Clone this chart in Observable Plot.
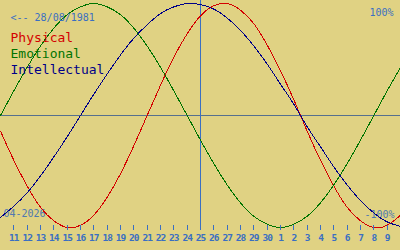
<!DOCTYPE html>
<html>
<head>
<meta charset="utf-8">
<script src="https://cdn.jsdelivr.net/npm/d3@7"></script>
<script src="https://cdn.jsdelivr.net/npm/@observablehq/plot@0.6"></script>
<style>
  html, body { margin: 0; padding: 0; background: #e0d283; }
  #chart svg { display: block; }
  #chart path, #chart line { shape-rendering: crispEdges; }
  #chart g[aria-label="x-axis tick label"] text { letter-spacing: -1px; }
</style>
</head>
<body>
<div id="chart"></div>
<script>
// Day labels: 10 April 2026 .. 10 May 2026 (index 0..30), centre = 25 April
const dayLabels = ["10","11","12","13","14","15","16","17","18","19","20","21","22","23","24","25","26","27","28","29","30","1","2","3","4","5","6","7","8","9","10"];
const physical     = [-14,-40,-63,-82,-94,-100,-98,-89,-73,-52,-27,0,27,52,73,89,98,100,94,82,63,40,14,-14,-40,-63,-82,-94,-100,-98,-89];
const emotional    = [0,22,43,62,78,90,97,100,97,90,78,62,43,22,0,-22,-43,-62,-78,-90,-97,-100,-97,-90,-78,-62,-43,-22,0,22,43];
const intellectual = [-91,-81,-69,-54,-37,-19,0,19,37,54,69,81,91,97,100,99,95,87,76,62,46,28,10,-10,-28,-46,-62,-76,-87,-95,-99];
const tickIndex = [1,2,3,4,5,6,7,8,9,10,11,12,13,14,15,16,17,18,19,20,21,22,23,24,25,26,27,28,29];
const centreIndex = [15];
const zeroLine = [0];
const seriesNames = ["Physical", "Emotional", "Intellectual"];
const seriesColors = ["#d40000", "#007400", "#000088"];
const birthLabel = "<-- 28/08/1981";
const monthLabel = "04-2026";
const topLabel = "100%";
const bottomLabel = "-100%";

const toRows = arr => arr.map((v, i) => ({i, v}));
const blue = "#3a6fc2";
const mono = "DejaVu Sans Mono";

const chart = Plot.plot({
  width: 400,
  height: 250,
  marginTop: 0,
  marginLeft: 0,
  marginRight: 0,
  marginBottom: 25,
  style: {background: "#e0d283", fontFamily: mono},
  x: {domain: [0, 30], range: [0, 400]},
  y: {domain: [-100, 100], range: [227, 3], axis: null},
  marks: [
    Plot.ruleY(zeroLine, {stroke: "#56708e", strokeWidth: 1}),
    Plot.ruleX(centreIndex, {x: d => d, y1: -103, y2: 103, stroke: blue, strokeWidth: 1.5}),
    Plot.text([monthLabel], {frameAnchor: "top-left", textAnchor: "start", lineAnchor: "bottom", dx: 3, dy: 216, fontSize: 10, fontFamily: mono, fill: "#4f78b0"}),
    Plot.text([bottomLabel], {frameAnchor: "top-right", textAnchor: "end", lineAnchor: "bottom", dx: -6, dy: 217, fontSize: 10, fontFamily: mono, fill: "#4f78b0"}),
    Plot.line(toRows(physical), {x: "i", y: "v", stroke: seriesColors[0], strokeWidth: 1, curve: "natural"}),
    Plot.line(toRows(emotional), {x: "i", y: "v", stroke: seriesColors[1], strokeWidth: 1, curve: "natural"}),
    Plot.line(toRows(intellectual), {x: "i", y: "v", stroke: seriesColors[2], strokeWidth: 1, curve: "natural"}),
    Plot.axisX({ticks: tickIndex, tickSize: 5, tickPadding: 4, tickFormat: i => dayLabels[i], label: null, fontSize: 9.5, fontWeight: "bold", fontFamily: mono, stroke: blue, fill: blue, color: blue}),
    Plot.text([birthLabel], {frameAnchor: "top-left", textAnchor: "start", lineAnchor: "bottom", dx: 10, dy: 20, fontSize: 10, fontFamily: mono, fill: blue}),
    Plot.text([topLabel], {frameAnchor: "top-right", textAnchor: "end", lineAnchor: "bottom", dx: -7, dy: 15, fontSize: 10, fontFamily: mono, fill: blue}),
    ...seriesNames.map((name, k) =>
      Plot.text([name], {frameAnchor: "top-left", textAnchor: "start", lineAnchor: "bottom", dx: 10, dy: 41 + k * 16, fontSize: 13, fontFamily: mono, fill: seriesColors[k]})
    )
  ]
});
document.getElementById("chart").append(chart);
</script>
</body>
</html>
